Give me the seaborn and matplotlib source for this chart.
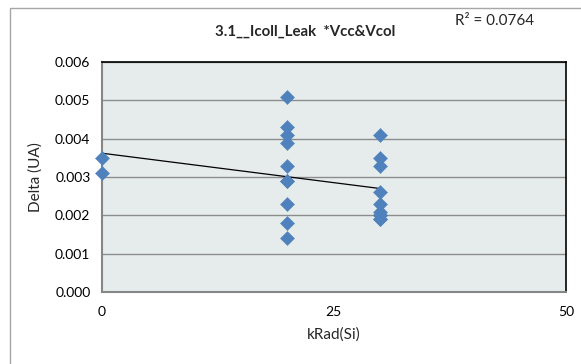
import numpy as np
import pandas as pd
import matplotlib
matplotlib.use("Agg")
import matplotlib.pyplot as plt
from matplotlib.patches import Rectangle
import seaborn as sns

# Total dose levels (kRad(Si)) and measured collector leakage deltas (UA)
dose_0 = [0, 0]
delta_0 = [0.0035, 0.0031]
dose_20 = [20] * 10
delta_20 = [0.0051, 0.0043, 0.0041, 0.0039, 0.0033, 0.0029, 0.0029, 0.0023, 0.0018, 0.0014]
dose_30 = [30] * 10
delta_30 = [0.0041, 0.0035, 0.0033, 0.0026, 0.0023, 0.0021, 0.0020, 0.0020, 0.0019, 0.0019]

title = "3.1__Icoll_Leak  *Vcc&Vcol"
r2_label = "R² = 0.0764"
x_ticks = [0, 25, 50]
y_ticks = [0.000, 0.001, 0.002, 0.003, 0.004, 0.005, 0.006]

df = pd.DataFrame({
    "kRad": dose_0 + dose_20 + dose_30,
    "Delta": delta_0 + delta_20 + delta_30,
})

sns.set_style("white")
plt.rcParams["font.family"] = ["Lato", "DejaVu Sans"]

W, H = 581, 364
fig = plt.figure(figsize=(W / 100, H / 100), dpi=100)
fig.patch.set_facecolor("white")

# chart frame
fig.add_artist(Rectangle((9.5 / W, -0.1), 1.2, (H - 7.5) / H + 0.1,
                         transform=fig.transFigure, fill=False,
                         edgecolor="#A6A6A6", linewidth=1.0))

ax = fig.add_axes([101.5 / W, (H - 292) / H, (566 - 101.5) / W, (292 - 62) / H])
ax.set_facecolor("#E6ECEC")

sns.regplot(data=df, x="kRad", y="Delta", ax=ax, scatter=False, ci=None,
            truncate=True, line_kws=dict(color="black", linewidth=0.9, zorder=3))
sns.scatterplot(data=df, x="kRad", y="Delta", ax=ax, marker="D", s=52,
                color="#4F81BD", edgecolor="#4F81BD", linewidth=0.3, zorder=4,
                clip_on=False)

ax.set_xlim(0, 50)
ax.set_ylim(0, 0.006)
ax.set_xticks(x_ticks)
ax.set_yticks(y_ticks)
ax.set_yticklabels([f"{v:.3f}" for v in y_ticks])
ax.yaxis.grid(True, color="#8C8C8C", linewidth=1.0)
ax.xaxis.grid(False)
ax.set_axisbelow(True)

for side in ("left", "bottom"):
    ax.spines[side].set_color("#868686")
    ax.spines[side].set_linewidth(1.5)
for side in ("top", "right"):
    ax.spines[side].set_color("black")
    ax.spines[side].set_linewidth(1.2)

ax.tick_params(axis="both", direction="out", length=4, width=1,
               color="#868686", labelsize=10, labelcolor="black", pad=4)
ax.tick_params(axis="x", pad=6)

ax.set_xlabel("kRad(Si)", fontsize=11, labelpad=7)
ax.set_ylabel("Delta (UA)", fontsize=11, labelpad=9)

fig.text(305 / W, 1 - 32 / H, title, ha="center", va="center",
         fontsize=10.8, fontweight="bold")
fig.text(455 / W, 1 - 21 / H, r2_label, ha="left", va="center", fontsize=11)

fig.savefig("out.png", dpi=100)
